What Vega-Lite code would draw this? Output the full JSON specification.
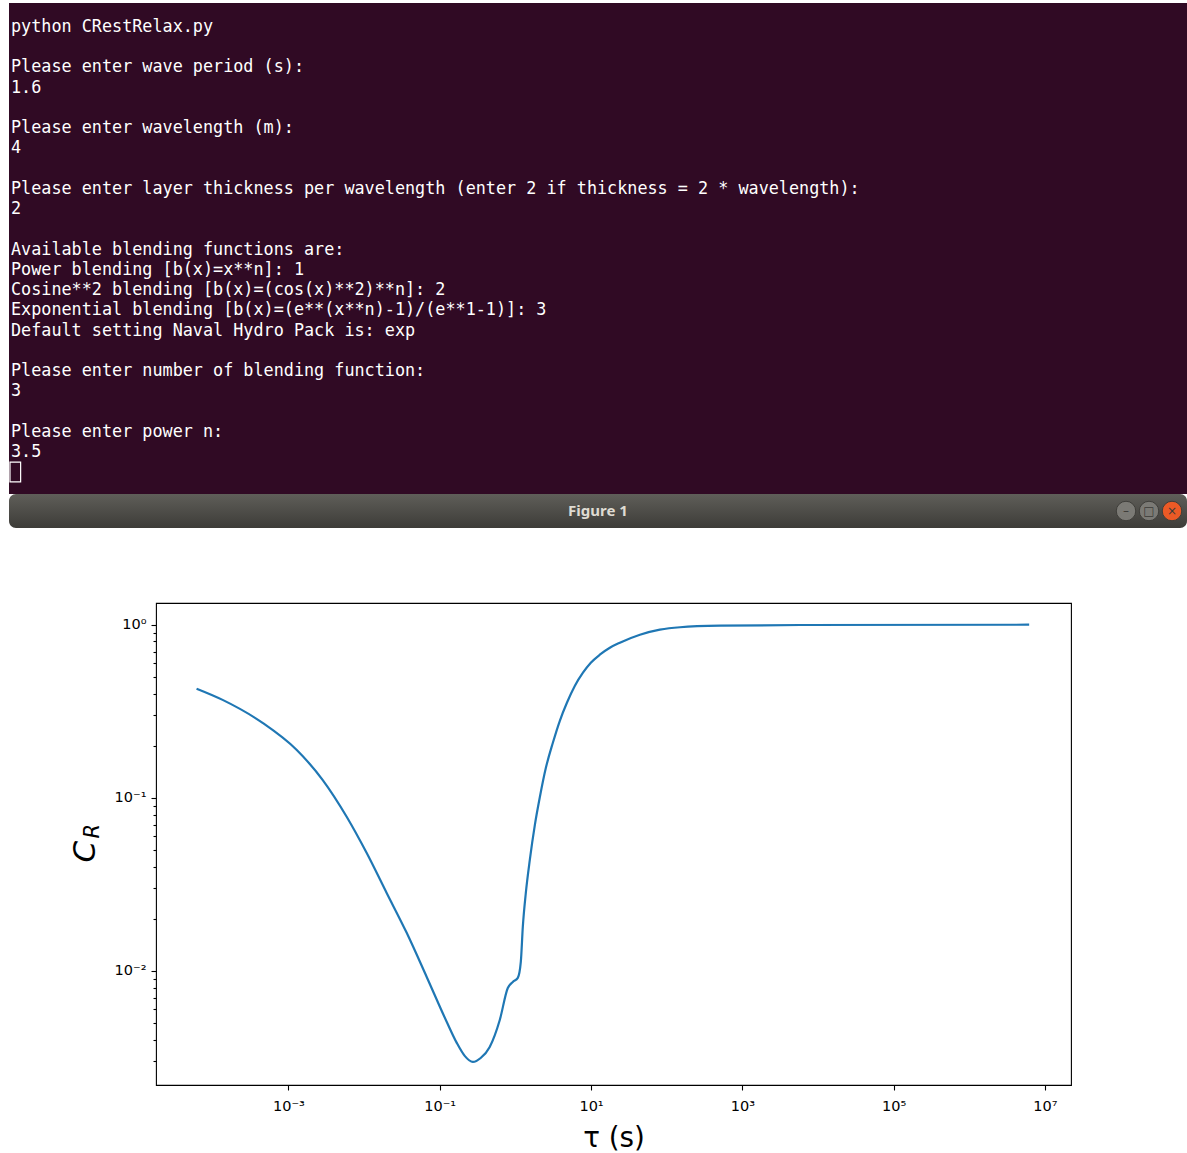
{
  "$schema": "https://vega.github.io/schema/vega-lite/v6.json",
  "background": "white",
  "padding": {"left": 9, "top": 3, "right": 0, "bottom": 0},
  "config": {"view": {"stroke": null}},
  "spacing": 74,
  "vconcat": [
    {
      "spacing": 0,
      "bounds": "flush",
      "vconcat": [
        {
          "width": 1178,
          "height": 491,
          "view": {"fill": "#300a24", "stroke": null},
          "layer": [
            {
              "data": {"values": [
                {"line": 0, "text": "python CRestRelax.py"},
                {"line": 2, "text": "Please enter wave period (s):"},
                {"line": 3, "text": "1.6"},
                {"line": 5, "text": "Please enter wavelength (m):"},
                {"line": 6, "text": "4"},
                {"line": 8, "text": "Please enter layer thickness per wavelength (enter 2 if thickness = 2 * wavelength):"},
                {"line": 9, "text": "2"},
                {"line": 11, "text": "Available blending functions are:"},
                {"line": 12, "text": "Power blending [b(x)=x**n]: 1"},
                {"line": 13, "text": "Cosine**2 blending [b(x)=(cos(x)**2)**n]: 2"},
                {"line": 14, "text": "Exponential blending [b(x)=(e**(x**n)-1)/(e**1-1)]: 3"},
                {"line": 15, "text": "Default setting Naval Hydro Pack is: exp"},
                {"line": 17, "text": "Please enter number of blending function:"},
                {"line": 18, "text": "3"},
                {"line": 20, "text": "Please enter power n:"},
                {"line": 21, "text": "3.5"}
              ]},
              "mark": {"type": "text", "align": "left", "baseline": "alphabetic", "font": "DejaVu Sans Mono", "fontSize": 16.8, "color": "#ffffff"},
              "encoding": {
                "x": {"datum": 0, "type": "quantitative", "scale": {"domain": [-0.197, 115.97], "nice": false, "zero": false}, "axis": null},
                "y": {"field": "line", "type": "quantitative", "scale": {"domain": [-1.433, 22.826], "reverse": true, "nice": false, "zero": false}, "axis": null},
                "text": {"field": "text"}
              }
            },
            {
              "data": {"values": [{"cursor": "block"}]},
              "mark": {"type": "rect", "fillOpacity": 0, "stroke": "#ffffff", "strokeWidth": 1.2},
              "encoding": {
                "x": {"datum": -0.1, "type": "quantitative"},
                "x2": {"datum": 0.95},
                "y": {"datum": 21.25, "type": "quantitative"},
                "y2": {"datum": 22.23}
              }
            }
          ]
        },
        {
          "width": 1178,
          "height": 34,
          "view": {
            "fill": {"gradient": "linear", "x1": 0, "y1": 0, "x2": 0, "y2": 1, "stops": [{"offset": 0, "color": "#5f5e59"}, {"offset": 1, "color": "#3d3c38"}]},
            "stroke": null,
            "cornerRadius": 7
          },
          "layer": [
            {
              "data": {"values": [{"label": "Figure 1"}]},
              "mark": {"type": "text", "font": "Noto Sans", "fontWeight": "bold", "fontSize": 15, "color": "#dfdbd2", "baseline": "middle"},
              "encoding": {"text": {"field": "label"}}
            },
            {
              "data": {"values": [
                {"btn": "minimize", "slot": 0, "glyph": "–"},
                {"btn": "maximize", "slot": 1, "glyph": "□"},
                {"btn": "close", "slot": 2, "glyph": "×"}
              ]},
              "layer": [
                {
                  "mark": {"type": "point", "filled": true, "size": 380, "stroke": "#3f3e3a", "strokeWidth": 1, "opacity": 1},
                  "encoding": {
                    "x": {"field": "slot", "type": "quantitative", "scale": {"domain": [-48.57, 2.652], "nice": false, "zero": false}, "axis": null},
                    "color": {"field": "btn", "type": "nominal", "scale": {"domain": ["minimize", "maximize", "close"], "range": ["#7b7a75", "#7b7a75", "#ec5a26"]}, "legend": null}
                  }
                },
                {
                  "mark": {"type": "text", "font": "DejaVu Sans", "fontSize": 12, "color": "#3c3b37", "baseline": "middle"},
                  "encoding": {
                    "x": {"field": "slot", "type": "quantitative"},
                    "text": {"field": "glyph"}
                  }
                }
              ]
            }
          ]
        }
      ]
    },
    {
      "spacing": 0,
      "bounds": "flush",
      "hconcat": [
        {
          "width": 147,
          "height": 482,
          "data": {"values": []},
          "mark": "point"
        },
        {
          "width": 915,
          "height": 482,
          "view": {"stroke": "#000000", "strokeWidth": 1.1, "fill": "white"},
          "data": {"values": [
            {"tau": 6.11e-5, "cr": 0.427},
            {"tau": 1.35e-4, "cr": 0.368},
            {"tau": 4.56e-4, "cr": 0.271},
            {"tau": 1.28e-3, "cr": 0.1895},
            {"tau": 2.83e-3, "cr": 0.127},
            {"tau": 5.89e-3, "cr": 0.0777},
            {"tau": 0.0108, "cr": 0.0481},
            {"tau": 0.0199, "cr": 0.0282},
            {"tau": 0.0366, "cr": 0.0166},
            {"tau": 0.0673, "cr": 0.00923},
            {"tau": 0.124, "cr": 0.00507},
            {"tau": 0.168, "cr": 0.00384},
            {"tau": 0.214, "cr": 0.00323},
            {"tau": 0.274, "cr": 0.00298},
            {"tau": 0.348, "cr": 0.00314},
            {"tau": 0.458, "cr": 0.00364},
            {"tau": 0.622, "cr": 0.00521},
            {"tau": 0.794, "cr": 0.00797},
            {"tau": 0.925, "cr": 0.00864},
            {"tau": 1.077, "cr": 0.00912},
            {"tau": 1.18, "cr": 0.01127},
            {"tau": 1.254, "cr": 0.01796},
            {"tau": 1.374, "cr": 0.0282},
            {"tau": 1.552, "cr": 0.0438},
            {"tau": 1.81, "cr": 0.0698},
            {"tau": 2.11, "cr": 0.1014},
            {"tau": 2.53, "cr": 0.149},
            {"tau": 3.13, "cr": 0.208},
            {"tau": 3.87, "cr": 0.2787},
            {"tau": 4.80, "cr": 0.354},
            {"tau": 6.12, "cr": 0.444},
            {"tau": 7.82, "cr": 0.528},
            {"tau": 9.93, "cr": 0.603},
            {"tau": 13.06, "cr": 0.671},
            {"tau": 17.73, "cr": 0.736},
            {"tau": 24.05, "cr": 0.787},
            {"tau": 44.3, "cr": 0.875},
            {"tau": 81.3, "cr": 0.936},
            {"tau": 150, "cr": 0.967},
            {"tau": 508, "cr": 0.987},
            {"tau": 5810, "cr": 0.996},
            {"tau": 6180000, "cr": 1.0}
          ]},
          "resolve": {"axis": {"y": "independent"}},
          "layer": [
            {
              "mark": {"type": "line", "color": "#1f77b4", "strokeWidth": 2.2, "interpolate": "monotone"},
              "encoding": {
                "x": {
                  "field": "tau", "type": "quantitative",
                  "scale": {"type": "log", "domain": [1.778e-5, 2.208e7], "nice": false},
                  "axis": {
                    "values": [0.001, 0.1, 10, 1000, 100000, 10000000],
                    "labelExpr": "datum.value < 0.005 ? '10⁻³' : datum.value < 0.5 ? '10⁻¹' : datum.value < 50 ? '10¹' : datum.value < 5000 ? '10³' : datum.value < 500000 ? '10⁵' : '10⁷'",
                    "title": "τ (s)",
                    "titleFont": "DejaVu Sans", "titleFontSize": 27.8, "titleFontWeight": "normal", "titleColor": "#000000", "titlePadding": 12,
                    "labelFont": "DejaVu Sans", "labelFontSize": 14.5, "labelColor": "#000000", "labelPadding": 9,
                    "tickSize": 5, "tickColor": "#000000", "tickWidth": 1.1,
                    "domain": false, "grid": false, "labelOverlap": false, "labelFlush": false
                  }
                },
                "y": {
                  "field": "cr", "type": "quantitative",
                  "scale": {"type": "log", "domain": [0.002193, 1.335], "nice": false},
                  "axis": {
                    "orient": "left",
                    "values": [0.003, 0.004, 0.005, 0.006, 0.007, 0.008, 0.009, 0.01, 0.02, 0.03, 0.04, 0.05, 0.06, 0.07, 0.08, 0.09, 0.1, 0.2, 0.3, 0.4, 0.5, 0.6, 0.7, 0.8, 0.9, 1],
                    "labelExpr": "datum.value == 1 ? '10⁰' : datum.value == 0.1 ? '10⁻¹' : datum.value == 0.01 ? '10⁻²' : ''",
                    "tickSize": {"condition": {"test": "datum.value == 1 || datum.value == 0.1 || datum.value == 0.01", "value": 5}, "value": 3},
                    "tickColor": "#000000", "tickWidth": 1.1,
                    "labelFont": "DejaVu Sans", "labelFontSize": 14.5, "labelColor": "#000000", "labelPadding": 5,
                    "domain": false, "grid": false, "labelOverlap": false, "labelFlush": false,
                    "title": "C",
                    "titleFont": "DejaVu Sans", "titleFontSize": 31, "titleFontStyle": "italic", "titleFontWeight": "normal", "titleColor": "#000000",
                    "titleX": -62, "titleY": 259, "titleAngle": 270, "titleAlign": "left", "titleBaseline": "alphabetic"
                  }
                }
              }
            },
            {
              "mark": {"type": "line", "opacity": 0},
              "encoding": {
                "x": {
                  "field": "tau", "type": "quantitative",
                  "axis": {
                    "values": [0.001, 0.1, 10, 1000, 100000, 10000000],
                    "labelExpr": "datum.value < 0.005 ? '10⁻³' : datum.value < 0.5 ? '10⁻¹' : datum.value < 50 ? '10¹' : datum.value < 5000 ? '10³' : datum.value < 500000 ? '10⁵' : '10⁷'",
                    "title": "τ (s)",
                    "titleFont": "DejaVu Sans", "titleFontSize": 27.8, "titleFontWeight": "normal", "titleColor": "#000000", "titlePadding": 12,
                    "labelFont": "DejaVu Sans", "labelFontSize": 14.5, "labelColor": "#000000", "labelPadding": 9,
                    "tickSize": 5, "tickColor": "#000000", "tickWidth": 1.1,
                    "domain": false, "grid": false, "labelOverlap": false, "labelFlush": false
                  }
                },
                "y": {
                  "field": "cr", "type": "quantitative",
                  "axis": {
                    "orient": "left",
                    "domain": false, "ticks": false, "labels": false, "grid": false,
                    "title": "R",
                    "titleFont": "DejaVu Sans", "titleFontSize": 21, "titleFontStyle": "italic", "titleFontWeight": "normal", "titleColor": "#000000",
                    "titleX": -58, "titleY": 235, "titleAngle": 270, "titleAlign": "left", "titleBaseline": "alphabetic"
                  }
                }
              }
            }
          ]
        }
      ]
    }
  ]
}
